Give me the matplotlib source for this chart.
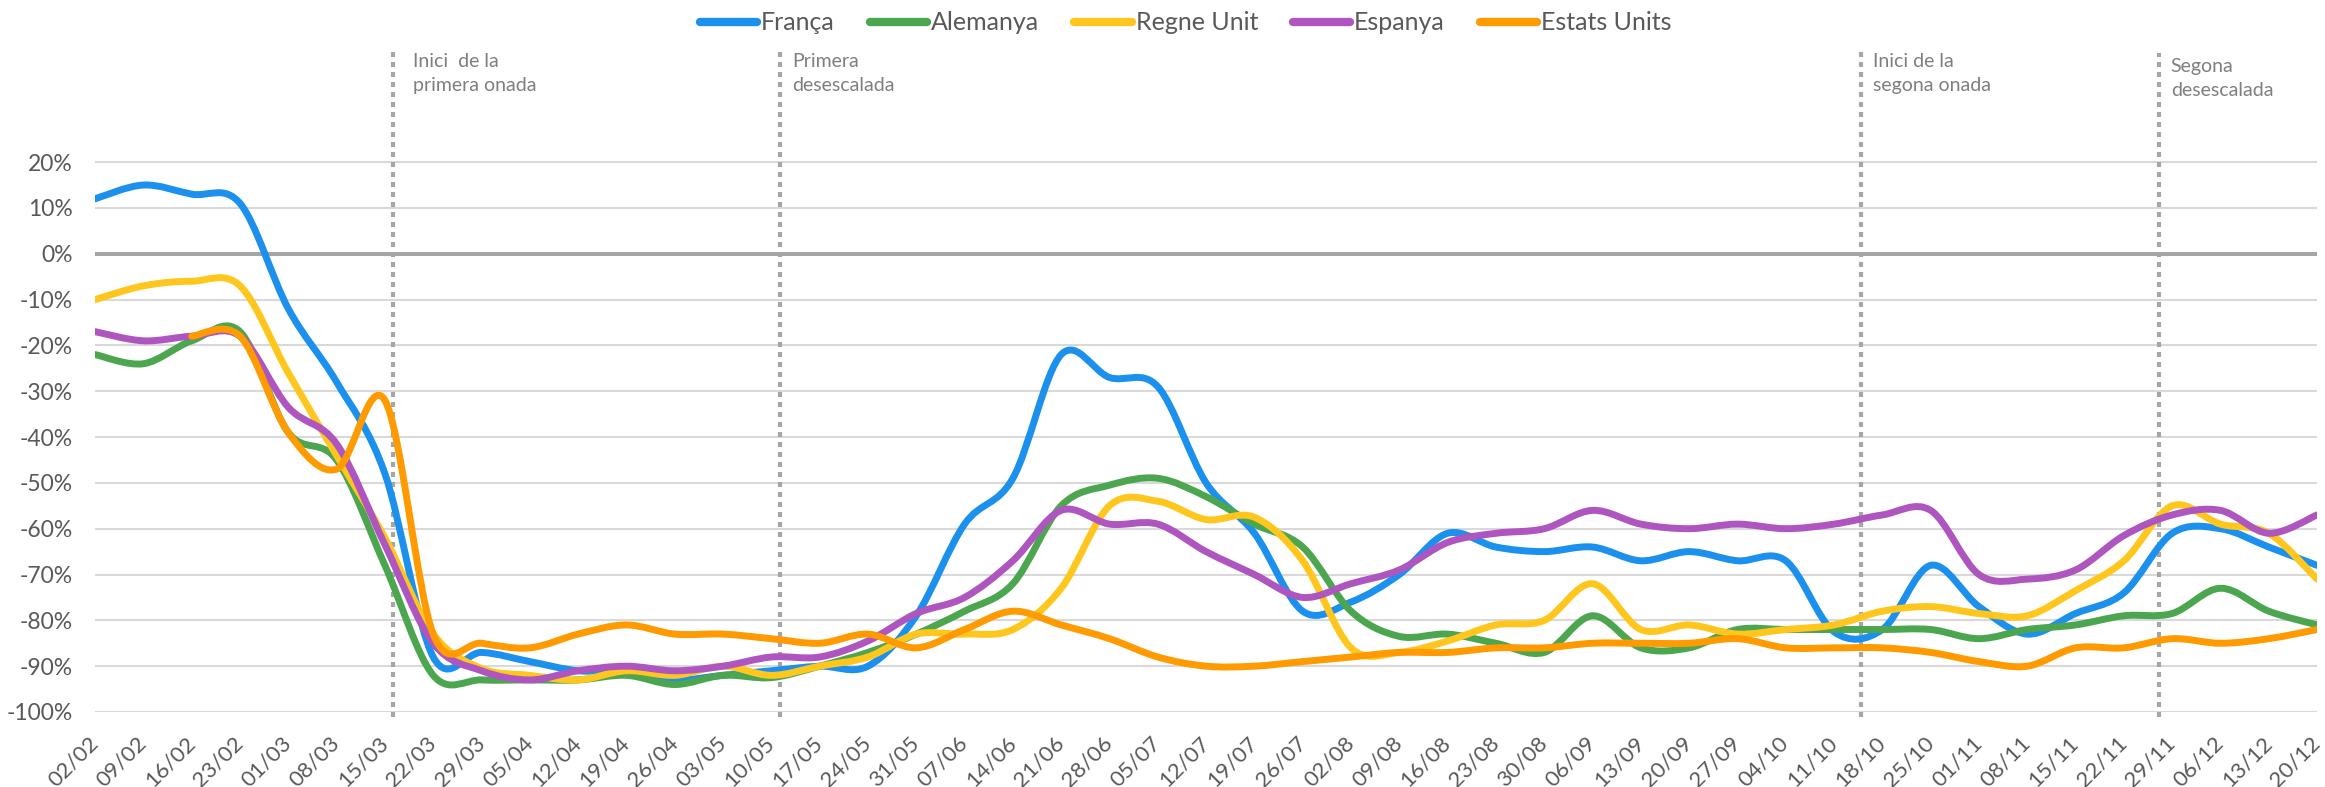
import numpy as np
import matplotlib
matplotlib.use('Agg')
import matplotlib.pyplot as plt
import matplotlib.transforms as mtransforms
from matplotlib.path import Path
from matplotlib.patches import PathPatch
from matplotlib.lines import Line2D

plt.rcParams['font.family'] = ['Lato', 'DejaVu Sans']

# weekly dates
weeks = ['02/02', '09/02', '16/02', '23/02', '01/03', '08/03', '15/03', '22/03', '29/03',
         '05/04', '12/04', '19/04', '26/04', '03/05', '10/05', '17/05', '24/05', '31/05',
         '07/06', '14/06', '21/06', '28/06', '05/07', '12/07', '19/07', '26/07', '02/08',
         '09/08', '16/08', '23/08', '30/08', '06/09', '13/09', '20/09', '27/09', '04/10',
         '11/10', '18/10', '25/10', '01/11', '08/11', '15/11', '22/11', '29/11', '06/12',
         '13/12', '20/12']

# % change
franca = [12, 15, 13, 11, -12, -28, -48, -88, -87, -89, -91, -91, -93, -92, -91, -90, -90,
          -79, -59, -49, -22, -27, -29, -50, -61, -78, -76, -70, -61, -64, -65, -64, -67,
          -65, -67, -67, -82.5, -82, -68, -77, -83, -78.5, -74, -61, -60, -64, -68]
alemanya = [-22, -24, -19, -17, -39, -45, -68, -92, -93, -93, -93, -92, -94, -92, -92.5, -90,
            -87, -83, -78, -72, -55, -50.5, -49, -53, -59, -64, -78, -83.5, -83, -85, -87,
            -79, -86, -86, -82, -82, -82, -82, -82, -84, -82, -81, -79, -78.5, -73, -78, -81]
regne_unit = [-10, -7, -6, -7, -26, -44, -62, -83, -90.5, -92, -93, -91, -92, -90, -92, -90,
              -88, -83, -83, -82, -73, -55, -54, -58, -57.5, -67, -86, -87, -84.5, -81, -80,
              -72, -82, -81, -83, -82, -81, -78, -77, -78.5, -79, -73.5, -67, -55, -59, -61, -71]
espanya = [-17, -19, -18, -18, -33.5, -41.5, -63.5, -85, -91, -93, -91, -90, -91, -90, -88,
           -88, -84.5, -78.5, -75, -67, -56, -59, -59, -65, -70, -75, -72, -69, -63, -61, -60,
           -56, -59, -60, -59, -60, -59, -57, -56, -70, -71, -69, -61.5, -57, -56, -61, -57]
estats_units = [None, None, -18, -18, -39, -47, -32, -83, -85, -86, -83, -81, -83, -83, -84,
                -85, -83, -86, -82, -78, -81, -84, -88, -90, -90, -89, -88, -87, -87, -86, -86,
                -85, -85, -85, -84, -86, -86, -86, -87, -89, -90, -86, -86, -84, -85, -84, -82]

series = [
    ('França', franca, '#1B90EC'),
    ('Alemanya', alemanya, '#4CA64F'),
    ('Regne Unit', regne_unit, '#FFC61E'),
    ('Espanya', espanya, '#AE55C0'),
    ('Estats Units', estats_units, '#FF9A00'),
]

# events (position between weeks) and labels
event_pos = [6.16, 14.18, 36.55, 42.72]
event_top = [44.9, 44.9, 44.9, 43.8]
event_text = ['Inici  de la\nprimera onada', 'Primera\ndesescalada',
              'Inici de la\nsegona onada', 'Segona\ndesescalada']


def smooth_path(xs, ys):
    # Excel-like smoothed line: bezier segments through the points
    verts = [(xs[0], ys[0])]
    codes = [Path.MOVETO]
    n = len(xs)
    for i in range(n - 1):
        p0 = (xs[i - 1], ys[i - 1]) if i > 0 else (xs[i], ys[i])
        p1 = (xs[i], ys[i])
        p2 = (xs[i + 1], ys[i + 1])
        p3 = (xs[i + 2], ys[i + 2]) if i + 2 < n else p2
        c1 = (p1[0] + (p2[0] - p0[0]) / 6, p1[1] + (p2[1] - p0[1]) / 6)
        c2 = (p2[0] - (p3[0] - p1[0]) / 6, p2[1] - (p3[1] - p1[1]) / 6)
        verts += [c1, c2, p2]
        codes += [Path.CURVE4] * 3
    return Path(verts, codes)


fig = plt.figure(figsize=(23.25, 7.87), dpi=100)
ax = fig.add_axes([0.0409, 0.0953, 0.9557, 0.8437])

x = np.arange(len(weeks))
ax.set_xlim(0, len(weeks) - 1)
ax.set_ylim(-100, 44.9)

yticks = np.arange(-100, 21, 10)
for v in yticks:
    if v == 0:
        ax.axhline(0, color='#A6A6A6', lw=2.9, zorder=1)
    else:
        ax.axhline(v, color='#D9D9D9', lw=1.5, zorder=1)

handles = []
for name, vals, col in series:
    pts = [(i, v) for i, v in enumerate(vals) if v is not None]
    xs = [p[0] for p in pts]
    ys = [p[1] for p in pts]
    patch = PathPatch(smooth_path(xs, ys), fill=False, edgecolor=col, lw=5.0,
                      capstyle='round', joinstyle='round', zorder=3)
    ax.add_patch(patch)
    handles.append(Line2D([0], [0], color=col, lw=6, solid_capstyle='round', label=name))

for pos, top, txt in zip(event_pos, event_top, event_text):
    ax.plot([pos, pos], [-101.2, top], color='#A6A6A6', lw=3,
            linestyle=(0, (1.2, 1.2)), dash_capstyle='butt', clip_on=False, zorder=2)
    off = 0.42 if pos < 10 else 0.25
    ax.text(pos + off, top - 1.0, txt, fontsize=14, color='#7F7F7F', va='top', ha='left',
            linespacing=1.55)

ax.set_yticks(yticks)
ax.set_yticklabels([f'{v}%' for v in yticks])
ax.set_xticks(x)
ax.set_xticklabels(weeks, rotation=45, ha='right', va='center', rotation_mode='anchor')
shift = mtransforms.ScaledTranslation(-5 / 100, 0, fig.dpi_scale_trans)
for lab in ax.get_xticklabels():
    lab.set_transform(lab.get_transform() + shift)
ax.tick_params(axis='y', length=0, pad=16, labelsize=16.5, labelcolor='#595959')
ax.tick_params(axis='x', length=0, pad=20, labelsize=16, labelcolor='#595959')
for s in ax.spines.values():
    s.set_visible(False)

fig.legend(handles=handles, loc='center', bbox_to_anchor=(0.51, 0.971), ncol=5,
           frameon=False, fontsize=18, handlelength=2.3, handletextpad=0.15,
           columnspacing=1.4, labelcolor='#595959')

fig.savefig('out.png', dpi=100)
